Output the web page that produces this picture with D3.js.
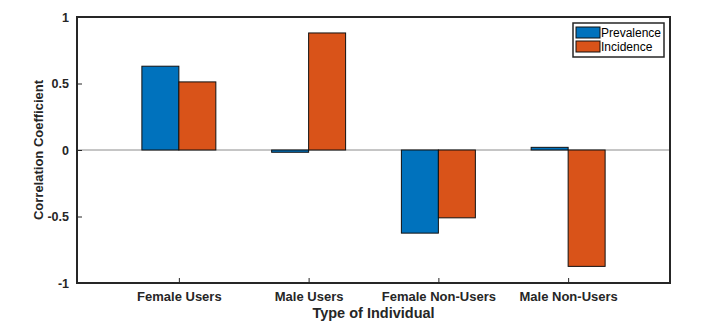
<!DOCTYPE html>
<html lang="en">
<meta charset="utf-8">
<head>
<script src="https://d3js.org/d3.v7.min.js"></script>
<style>
  body { margin: 0; background: #fff; }
  text { font-family: "Liberation Sans", Arial, sans-serif; }
</style>
</head>
<body>
<div id="my_dataviz"></div>
<script>

var categories = ['Female Users', 'Male Users', 'Female Non-Users', 'Male Non-Users']
var prevalence = [0.63, -0.017, -0.625, 0.02]
var incidence = [0.512, 0.88, -0.51, -0.875]
var series = ['Prevalence', 'Incidence']
var colors = ['#0072BD', '#D95319']
var yTicks = [-1, -0.5, 0, 0.5, 1]

var width = 725, height = 329
var margin = {top: 17, right: 55, bottom: 46, left: 77}

var svg = d3.select("#my_dataviz")
  .append("svg")
  .attr("width", width)
  .attr("height", height)

// MATLAB-ish categorical axis: positions 1..4, xlim a bit wider
var xScale = d3.scaleLinear()
  .domain([0.215, 4.785])
  .range([margin.left, width - margin.right])

var yScale = d3.scaleLinear()
  .domain([-1, 1])
  .range([height - margin.bottom, margin.top])

var barW = xScale(1.285) - xScale(1)

var table = categories.map(function(c, i) {
  return {cat: c, i: i + 1, vals: [prevalence[i], incidence[i]]}
})

// zero line
svg.append("line")
  .attr("x1", xScale.range()[0]).attr("x2", xScale.range()[1])
  .attr("y1", yScale(0)).attr("y2", yScale(0))
  .attr("stroke", "#8c8c8c").attr("stroke-width", 1)

// BARS
table.forEach(function(d) {
  d.vals.forEach(function(v, s) {
    var x0 = xScale(d.i) - barW + s * barW
    svg.append("rect")
      .attr("x", x0)
      .attr("width", barW)
      .attr("y", yScale(Math.max(0, v)))
      .attr("height", Math.abs(yScale(v) - yScale(0)))
      .attr("fill", colors[s])
      .attr("stroke", "#111")
      .attr("stroke-width", 1)
  })
})

// AXES
var yAxis = svg.append("g")
  .attr("transform", "translate(" + margin.left + ",0)")
  .call(d3.axisLeft(yScale).tickValues(yTicks).tickSize(-5).tickPadding(8)
        .tickFormat(function(d) { return String(d) }))
yAxis.select(".domain").remove()
yAxis.selectAll("line").attr("stroke", "#262626")
yAxis.selectAll("text").attr("font-size", 12.5).attr("font-weight", "bold").attr("fill", "#262626")

var xAxis = svg.append("g")
  .attr("transform", "translate(0," + yScale(-1) + ")")
  .call(d3.axisBottom(xScale).tickValues([1, 2, 3, 4]).tickSize(-5).tickPadding(8.5)
        .tickFormat(function(d) { return categories[d - 1] }))
xAxis.select(".domain").remove()
xAxis.selectAll("line").attr("stroke", "#262626")
xAxis.selectAll("text").attr("font-size", 13).attr("font-weight", "bold").attr("fill", "#262626")

// box
svg.append("rect")
  .attr("x", margin.left).attr("y", margin.top)
  .attr("width", xScale.range()[1] - margin.left)
  .attr("height", yScale(-1) - margin.top)
  .attr("fill", "none").attr("stroke", "#262626").attr("stroke-width", 2)

// titles
svg.append("text")
  .attr("x", (margin.left + xScale.range()[1]) / 2)
  .attr("y", 318)
  .attr("text-anchor", "middle")
  .attr("font-size", 14.5).attr("font-weight", "bold").attr("fill", "#262626")
  .text("Type of Individual")

svg.append("text")
  .attr("transform", "translate(43," + yScale(0) + ") rotate(-90)")
  .attr("text-anchor", "middle")
  .attr("font-size", 13).attr("font-weight", "bold").attr("fill", "#262626")
  .text("Correlation Coefficient")

// LEGEND
var lg = svg.append("g").attr("transform", "translate(573,23)")
lg.append("rect")
  .attr("width", 91).attr("height", 34)
  .attr("fill", "#fff").attr("stroke", "#262626").attr("stroke-width", 1.5)
series.forEach(function(s, i) {
  lg.append("rect")
    .attr("x", 3).attr("y", 4 + i * 14)
    .attr("width", 24).attr("height", 11)
    .attr("fill", colors[i]).attr("stroke", "#111").attr("stroke-width", 1)
  lg.append("text")
    .attr("x", 28).attr("y", 14 + i * 14)
    .attr("font-size", 12).attr("fill", "#000")
    .text(s)
})

</script>
</body>
</html>
